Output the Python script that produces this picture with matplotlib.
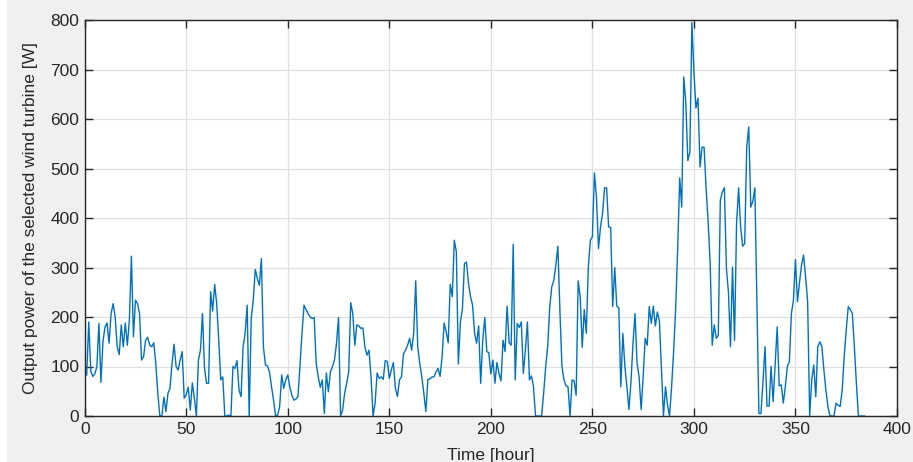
import numpy as np
import matplotlib
matplotlib.use("Agg")
import matplotlib.pyplot as plt
from matplotlib.patches import Rectangle

# Hourly output power of the selected wind turbine [W], hours 1..384
hours = list(range(1, 385))
power = [
    83, 190, 90, 80, 85, 100, 187, 68, 150, 180,
    188, 147, 207, 227, 200, 140, 124, 184, 140, 188,
    143, 194, 323, 160, 234, 227, 207, 113, 120, 153,
    159, 143, 140, 148, 106, 46, 0, 0, 38, 9,
    46, 56, 106, 145, 100, 93, 113, 130, 36, 43,
    58, 12, 67, 36, 0, 113, 133, 207, 96, 66,
    66, 251, 212, 266, 227, 153, 73, 79, 0, 0,
    2, 0, 100, 96, 112, 52, 39, 140, 167, 224,
    0, 197, 234, 296, 278, 264, 318, 140, 103, 101,
    89, 59, 32, 0, 2, 19, 83, 56, 73, 83,
    59, 42, 32, 34, 39, 100, 167, 224, 215, 207,
    200, 197, 199, 106, 79, 58, 73, 5, 87, 49,
    89, 100, 113, 147, 199, 0, 12, 46, 66, 89,
    229, 207, 143, 184, 182, 177, 178, 139, 123, 133,
    79, 0, 26, 87, 76, 79, 74, 112, 110, 76,
    93, 108, 56, 39, 73, 79, 126, 133, 143, 157,
    133, 167, 273, 140, 106, 79, 46, 9, 74, 75,
    79, 79, 89, 96, 80, 120, 188, 170, 148, 266,
    241, 355, 332, 105, 190, 215, 308, 311, 268, 241,
    224, 167, 147, 182, 66, 153, 199, 130, 128, 85,
    113, 66, 108, 86, 71, 153, 130, 222, 148, 143,
    347, 73, 187, 179, 190, 86, 133, 190, 73, 81,
    59, 0, 0, 0, 0, 46, 100, 140, 221, 261,
    274, 305, 343, 214, 100, 73, 61, 59, 0, 73,
    71, 42, 273, 241, 139, 215, 167, 301, 355, 362,
    491, 442, 338, 382, 409, 461, 461, 382, 381, 221,
    300, 222, 219, 59, 167, 100, 59, 13, 69, 147,
    207, 106, 79, 13, 79, 157, 143, 221, 187, 222,
    182, 210, 192, 96, 0, 59, 22, 0, 59, 130,
    217, 338, 481, 422, 685, 634, 516, 533, 795, 695,
    622, 642, 503, 543, 543, 459, 393, 308, 143, 184,
    157, 163, 436, 453, 461, 298, 250, 140, 301, 153,
    389, 461, 382, 343, 348, 543, 584, 422, 434, 461,
    234, 5, 5, 69, 140, 20, 20, 100, 29, 106,
    180, 61, 63, 26, 59, 100, 110, 207, 234, 316,
    231, 270, 305, 325, 281, 231, 0, 73, 103, 39,
    140, 150, 140, 93, 52, 19, 0, 0, 0, 26,
    22, 19, 52, 120, 174, 221, 215, 207, 140, 66,
    0, 0, 0, 0,
]

x_ticks = [0, 50, 100, 150, 200, 250, 300, 350, 400]
y_ticks = [0, 100, 200, 300, 400, 500, 600, 700, 800]
x_label = "Time [hour]"
y_label = "Output power of the selected wind turbine [W]"

plt.rcParams['font.family'] = ['Liberation Sans', 'DejaVu Sans']

W, H = 913, 462
fig = plt.figure(figsize=(W / 100, H / 100), dpi=100)
fig.patch.set_facecolor('#f0f0f0')
fig.patches.append(Rectangle((0, 0), 7 / W, 1, transform=fig.transFigure,
                             facecolor='white', edgecolor='none', zorder=0))

left, right, top, bottom = 84.7, 897, 20, 416
ax = fig.add_axes([left / W, 1 - bottom / H, (right - left) / W, (bottom - top) / H])
ax.set_facecolor('white')

ax.plot(hours, power, color='#0072BD', lw=1.0, clip_on=True, zorder=3)

ax.set_xlim(0, 400)
ax.set_ylim(0, 800)
ax.set_xticks(x_ticks)
ax.set_yticks(y_ticks)
ax.grid(True, color='#e0e0e0', lw=0.9, zorder=0)
ax.set_axisbelow(True)

for s in ax.spines.values():
    s.set_color('#262626')
    s.set_linewidth(1.0)
    s.set_zorder(4)

ax.tick_params(direction='in', length=6, width=1.0, colors='#262626',
               top=True, right=True, labelsize=12.5, pad=4)

ax.set_xlabel(x_label, fontsize=12.5, color='#262626', labelpad=8.5)
ax.set_ylabel(y_label, fontsize=12.5, color='#262626', labelpad=9)

fig.savefig('out.png', dpi=100, facecolor=fig.get_facecolor())
